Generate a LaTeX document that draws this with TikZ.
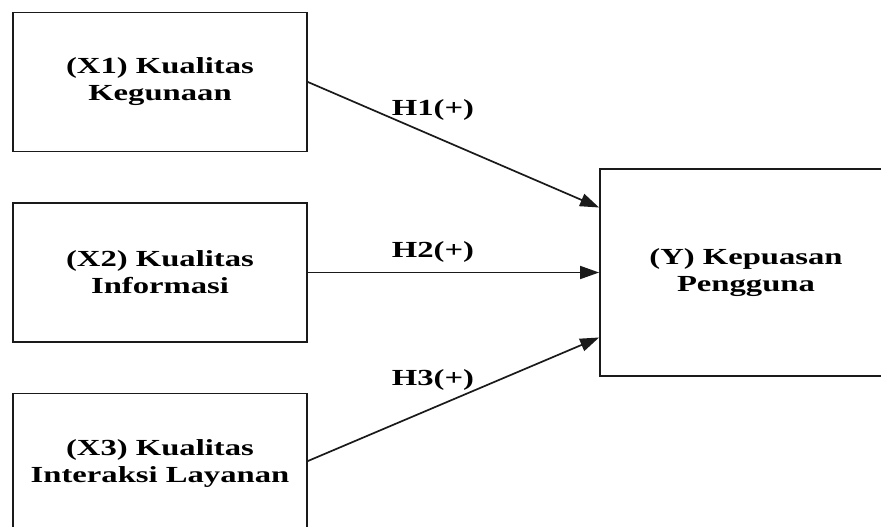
\documentclass[tikz,border=0pt]{standalone}
\usepackage{fontspec}
\newfontfamily\diagfont{Liberation Serif}[FakeStretch=1.42]
\usepackage{tikz}
\usetikzlibrary{
	arrows.meta,
	positioning
}
\definecolor{BoxInk}{HTML}{1A1A1A}

\begin{document}
\begin{tikzpicture}[
 x=1pt,y=-1pt,
 font=\diagfont\bfseries\fontsize{23}{27}\selectfont,
 varbox/.style={draw=BoxInk,line width=1.8pt,align=center,
   minimum width=294pt,minimum height=139pt,inner sep=0pt},
 hlabel/.style={inner sep=0pt},
 effect/.style={-{Triangle[length=19pt,width=13pt]},draw=BoxInk,line width=1.7pt}
]
 \useasboundingbox (0,0) rectangle (881,527);
 \clip (0,0) rectangle (881,527);
 \node[varbox] (x1) at (160,82) {(X1) Kualitas\\Kegunaan};
 \node[varbox] (x2) at (160,272.5) {(X2) Kualitas\\Informasi};
 \node[varbox] (x3) at (160,463) {(X3) Kualitas\\Interaksi Layanan};
 \node[varbox,minimum width=292pt,minimum height=207pt]
   (kep) at (746,272.5) {(Y) Kepuasan\\Pengguna};
 \draw[effect] (x1.east)--([yshift=65pt]kep.west);
 \draw[effect] (x2.east)--(kep.west);
 \draw[effect] ([yshift=2pt]x3.east)--([yshift=-65pt]kep.west);
 \node[hlabel] (h1) at (433,110) {H1(+)};
 \node[hlabel] (h2) at (433,252) {H2(+)};
 \node[hlabel] (h3) at (433,380) {H3(+)};
\end{tikzpicture}
\end{document}
